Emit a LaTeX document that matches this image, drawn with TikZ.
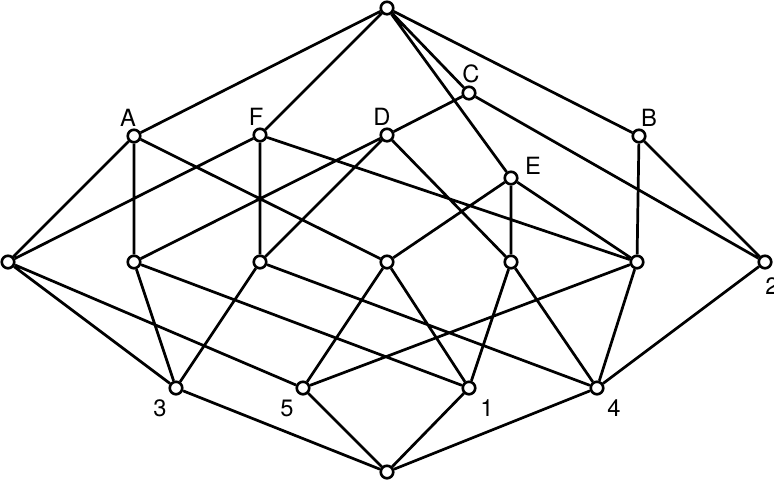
\documentclass[tikz,border=0pt]{standalone}
\usepackage{fontspec}
\setmainfont{TeX Gyre Heros}
\tikzset{
  vtx/.style={circle,draw,fill=white,line width=1.5pt,minimum size=0.25cm,inner sep=0pt},
  lbl/.style={inner sep=0pt,font=\fontsize{13.5}{15}\selectfont},
  edge/.style={line width=1.55pt}
}
\begin{document}
\begin{tikzpicture}[x=0.02cm,y=-0.02cm]
\useasboundingbox (0,0) rectangle (774,485);
% vertices
\node[vtx] (top) at (387,8) {};
\node[vtx] (A) at (134,136) {};
\node[vtx] (F) at (260,135) {};
\node[vtx] (D) at (387,135) {};
\node[vtx] (C) at (469,93) {};
\node[vtx] (E) at (511,178) {};
\node[vtx] (B) at (639,136) {};
\node[vtx] (m0) at (8,262) {};
\node[vtx] (m1) at (134,262) {};
\node[vtx] (m2) at (260,262) {};
\node[vtx] (m3) at (387,262) {};
\node[vtx] (m4) at (511,262) {};
\node[vtx] (m5) at (637,262) {};
\node[vtx] (m6) at (765,262) {};
\node[vtx] (n3) at (176,388) {};
\node[vtx] (n5) at (303,388) {};
\node[vtx] (n1) at (469,388) {};
\node[vtx] (n4) at (597,388) {};
\node[vtx] (bot) at (387,472) {};
% labels
\node[lbl] (lA) at (128,118) {A};
\node[lbl] (lF) at (256,117) {F};
\node[lbl] (lD) at (382,117) {D};
\node[lbl] (lC) at (471,74) {C};
\node[lbl] (lB) at (649,118) {B};
\node[lbl] (lE) at (533,166) {E};
\node[lbl] (l3) at (160,408) {3};
\node[lbl] (l5) at (287,408) {5};
\node[lbl] (l1) at (487,408) {1};
\node[lbl] (l4) at (614,408) {4};
\node[lbl] (l2) at (772,286) {2};
% edges
\draw[edge] (top) -- (A) (top) -- (F) (top) -- (C) (top) -- (E) (top) -- (B)
(A) -- (m0) (A) -- (m1) (A) -- (m3)
(F) -- (m0) (F) -- (m2) (F) -- (m5)
(D) -- (C) (D) -- (m1) (D) -- (m2) (D) -- (m4)
(C) -- (m6)
(B) -- (m5) (B) -- (m6)
(E) -- (m3) (E) -- (m4) (E) -- (m5);
\draw[edge] (m0) -- (n3) (m0) -- (n5)
(m1) -- (n3) (m1) -- (n1)
(m2) -- (n3) (m2) -- (n4)
(m3) -- (n5) (m3) -- (n1)
(m4) -- (n1) (m4) -- (n4)
(m5) -- (n5) (m5) -- (n4)
(m6) -- (n4)
(n3) -- (bot) (n5) -- (bot) (n1) -- (bot) (n4) -- (bot);
\end{tikzpicture}
\end{document}
